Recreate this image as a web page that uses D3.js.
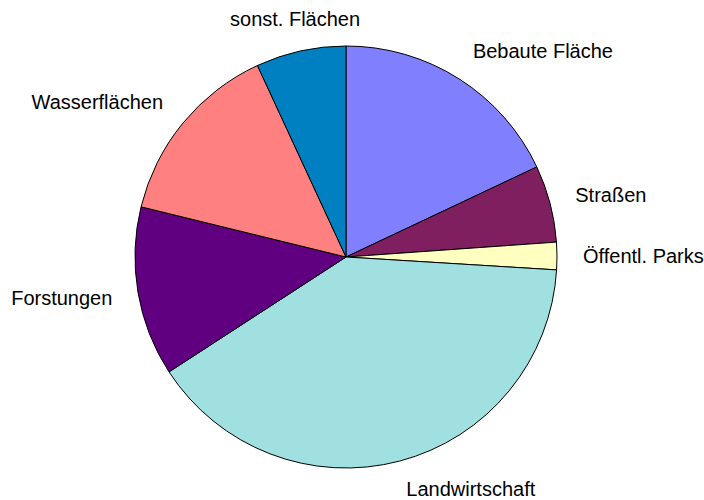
<!DOCTYPE html>
<html>
<head>
<meta charset="utf-8">
<script src="https://cdn.jsdelivr.net/npm/d3@7"></script>
<style>
  body { margin: 0; background: #fff; }
  svg { display: block; }
  text { font-family: "Liberation Sans", Arial, sans-serif; }
</style>
</head>
<body>
<div id="chart"></div>
<script>
// categories, clockwise from 12 o'clock
const categories = ["Bebaute Fläche", "Straßen", "Öffentl. Parks", "Landwirtschaft",
                    "Forstungen", "Wasserflächen", "sonst. Flächen"];
// share in percent
const shares = [18.0, 5.9, 2.1, 39.9, 13.0, 14.3, 6.9];
const sliceColors = ["#8080ff", "#7f1f5f", "#ffffc0", "#a0e0e0", "#600080", "#ff8080", "#0080c0"];

const width = 704, height = 500;
const cx = 346, cy = 257, radius = 211;
const labelRadius = 237;

const svg = d3.select("#chart").append("svg")
    .attr("width", width)
    .attr("height", height);

const g = svg.append("g")
    .attr("transform", `translate(${cx},${cy})`);

const data = categories.map((c, i) => ({ name: c, value: shares[i], color: sliceColors[i] }));

const pie = d3.pie()
    .sort(null)
    .value(d => d.value);

const arc = d3.arc()
    .innerRadius(0)
    .outerRadius(radius);

const arcs = pie(data);

// slices
g.selectAll("path.slice")
    .data(arcs)
    .enter()
    .append("path")
    .attr("class", "slice")
    .attr("d", arc)
    .attr("fill", d => d.data.color)
    .attr("stroke", "#000")
    .attr("stroke-width", 1)
    .attr("stroke-linejoin", "round");

// labels outside the pie
g.selectAll("text.label")
    .data(arcs)
    .enter()
    .append("text")
    .attr("class", "label")
    .attr("font-size", "20px")
    .attr("fill", "#000")
    .each(function(d) {
        const a = (d.startAngle + d.endAngle) / 2;
        const s = Math.sin(a), c = Math.cos(a);
        const px = s * labelRadius;
        const py = -c * labelRadius;
        const anchor = s > 0.1 ? "start" : (s < -0.3 ? "end" : "middle");
        const centerY = py - c * 7;
        // keep the bottom label inside the picture
        const baseY = Math.min(centerY + 7, height - cy - 4);
        d3.select(this)
            .attr("x", px)
            .attr("y", baseY)
            .attr("text-anchor", anchor)
            .text(d.data.name);
    });
</script>
</body>
</html>
